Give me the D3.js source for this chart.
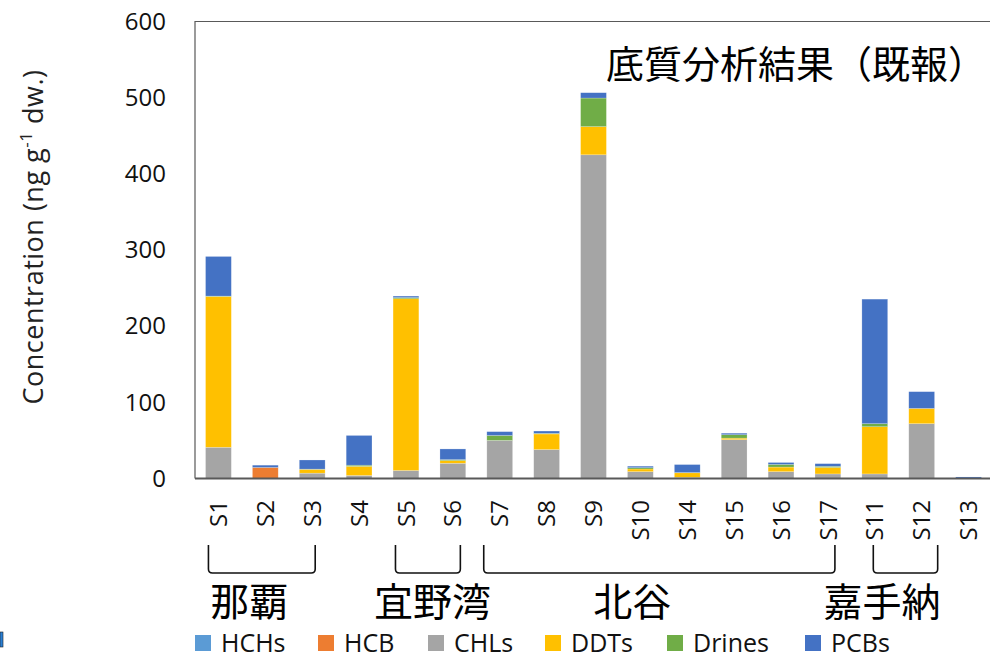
<!DOCTYPE html>
<html><head><meta charset="utf-8">
<script src="https://cdn.jsdelivr.net/npm/d3@7"></script>
<style>
html,body{margin:0;padding:0;background:#fff;}
svg{display:block;}
</style></head>
<body>
<svg id="chart" width="990" height="664"></svg>
<script>
// ---- data ----
const categories = ["S1","S2","S3","S4","S5","S6","S7","S8","S9","S10","S14","S15","S16","S17","S11","S12","S13"];
const seriesNames = ["HCHs","HCB","CHLs","DDTs","Drines","PCBs"];
const HCHs   = [0,0,0,0,0,0,0,0,0,0,0,0,0,0,0,0,0];
const HCB    = [0,14.5,0,0,0,0,0,0,0,0,0,0,0,0,0,0,0];
const CHLs   = [41,0,7,4,10.5,20,50,38,425,9,1.5,51,9,6,6,72,0];
const DDTs   = [198,0,5,12,225.5,3.5,0,20.5,37,3.5,6,2,6,8.5,62,20,0];
const Drines = [0.5,0,0.3,1.5,1.5,1.3,6.5,0.8,37.5,1.7,0.3,4.5,3.5,1.5,4,0,0];
const PCBs   = [52,3,12,39,2,14,5,3,7,2,10.5,2,2.5,3.5,163.5,22,2];
const yTicks = [0,100,200,300,400,500,600];
const groups = [
  {name:"那覇", from:"S1", to:"S3"},
  {name:"宜野湾", from:"S5", to:"S6"},
  {name:"北谷", from:"S7", to:"S17"},
  {name:"嘉手納", from:"S11", to:"S12"}
];
const titleText = "底質分析結果（既報）";

// ---- layout / style ----
const colors = ["#5B9BD5","#ED7D31","#A5A5A5","#FFC000","#70AD47","#4472C4"];
const bracketOffsets = [[-10,3],[-10.5,7.5],[-16,7],[-1.5,16]];
const labelShift = [-12.5, 4.5, -27, -23.5];
const legendX = [195,318,428,545,667,805];
const latin = "'Open Sans', 'Noto Sans', sans-serif";
const cjk = "'Noto Sans CJK JP', sans-serif";
const ink = "#111";

const svg = d3.select("#chart");
const x = d3.scaleBand().domain(categories).range([195, 992]).paddingInner(0.45).paddingOuter(0.225);
const y = d3.scaleLinear().domain([0, 600]).range([478.5, 21.5]);

const seriesArrays = [HCHs, HCB, CHLs, DDTs, Drines, PCBs];
const table = categories.map((c, i) => {
  const row = {cat: c};
  seriesNames.forEach((s, k) => row[s] = seriesArrays[k][i]);
  return row;
});
const stacked = d3.stack().keys(seriesNames)(table);

// frame (left + top)
svg.append("path")
  .attr("d", `M${x.range()[0]},${y(0)}V${y(600)}H${x.range()[1]}`)
  .attr("fill","none").attr("stroke","#595959").attr("stroke-width",1.2);

// bars
svg.append("g").selectAll("g").data(stacked).join("g")
  .attr("fill", (d, k) => colors[k])
  .selectAll("rect").data(d => d.map(v => ({v, cat: v.data.cat}))).join("rect")
  .attr("x", d => x(d.cat))
  .attr("width", x.bandwidth())
  .attr("y", d => y(d.v[1]))
  .attr("height", d => Math.max(0, y(d.v[0]) - y(d.v[1])))
  .attr("stroke", "#ffffff").attr("stroke-opacity", 0.35).attr("stroke-width", 0.6);

// bottom axis line
svg.append("line").attr("x1", x.range()[0]).attr("x2", 990)
  .attr("y1", y(0)).attr("y2", y(0)).attr("stroke","#595959").attr("stroke-width",2);

// y tick labels
const yAxis = d3.axisLeft(y).tickValues(yTicks).tickSize(0).tickPadding(29);
const ya = svg.append("g").attr("transform", `translate(${x.range()[0]},0)`).call(yAxis);
ya.select(".domain").remove();
ya.selectAll("text").attr("font-family", latin).attr("font-size", 24).attr("fill", ink);

// x labels rotated
svg.append("g").selectAll("text").data(categories).join("text")
  .attr("transform", d => `translate(${x(d) + x.bandwidth()/2},500) rotate(-90)`)
  .attr("text-anchor","end").attr("dy","0.36em")
  .attr("font-family", latin).attr("font-size", 24).attr("fill", ink)
  .text(d => d);

// y axis title
const yt = svg.append("text")
  .attr("transform", "translate(43,237) rotate(-90)")
  .attr("text-anchor","middle")
  .attr("font-family", latin).attr("font-size", 27).attr("letter-spacing", 0.5).attr("fill","#222");
yt.append("tspan").text("Concentration (ng g");
yt.append("tspan").attr("font-size", 17).attr("dy", -11).text("-1");
yt.append("tspan").attr("dy", 11).text(" dw.)");

// chart title
svg.append("text").attr("x", 606).attr("y", 78).attr("text-anchor","start")
  .attr("font-family", cjk).attr("font-size", 38).attr("fill","#000")
  .text(titleText);

// group brackets and labels
groups.forEach((g, i) => {
  const x0 = x(g.from) + x.bandwidth()/2 + bracketOffsets[i][0];
  const x1 = x(g.to) + x.bandwidth()/2 + bracketOffsets[i][1];
  const top = 545, bot = 573, r = 4;
  svg.append("path")
    .attr("d", `M${x0},${top}V${bot-r}Q${x0},${bot} ${x0+r},${bot}H${x1-r}Q${x1},${bot} ${x1},${bot-r}V${top}`)
    .attr("fill","none").attr("stroke","#111").attr("stroke-width",1.6);
  svg.append("text").attr("x", (x0 + x1)/2 + labelShift[i]).attr("y", 616).attr("text-anchor","middle")
    .attr("font-family", cjk).attr("font-size", 39).attr("fill","#000").text(g.name);
});

// legend
const lg = svg.append("g").selectAll("g").data(seriesNames).join("g")
  .attr("transform", (d, i) => `translate(${legendX[i]},0)`);
lg.append("rect").attr("x",0).attr("y",635).attr("width",16).attr("height",16)
  .attr("fill", (d, i) => colors[i]);
lg.append("text").attr("x",26).attr("y",643).attr("dy","0.36em")
  .attr("font-family", latin).attr("font-size", 25).attr("fill", ink)
  .text(d => d);

// small edge mark at left
svg.append("rect").attr("x",0).attr("y",632).attr("width",3).attr("height",15)
  .attr("fill","#2a7fd4").attr("stroke","#222").attr("stroke-width",0.6);
</script>
</body></html>
